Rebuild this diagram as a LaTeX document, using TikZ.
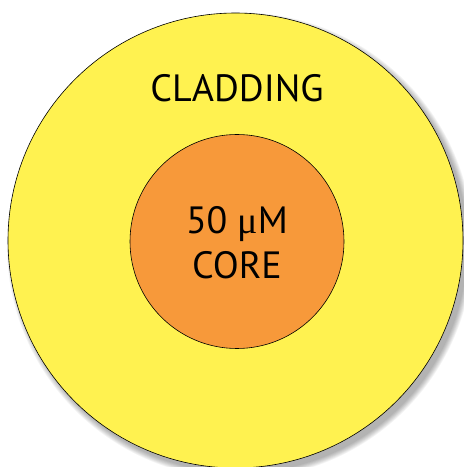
\documentclass[tikz,border=0pt]{standalone}
\usepackage{fontspec}
\setmainfont{PT Sans}
\newfontfamily\greekfont{Liberation Serif}
\definecolor{cladyellow}{RGB}{255,242,80}
\definecolor{coreorange}{RGB}{247,153,58}
\begin{document}
\begin{tikzpicture}[x=1pt,y=1pt,
  ring/.style={circle, draw=black, line width=0.6pt, inner sep=0pt},
  label/.style={font=\fontsize{38}{45}\selectfont, align=center, text=black}]
\useasboundingbox (0,0) rectangle (464,467);
\begin{scope}
\clip (0,0) rectangle (464,467);
\foreach \k in {0,1,...,7}{
  \fill[black, opacity=0.045] (240,221.5) circle ({227.5+\k*0.8});
}
\node[ring, fill=cladyellow, minimum size=455pt] (clad) at (235.5,226.5) {};
\end{scope}
\node[ring, fill=coreorange, minimum size=214pt] (core) at (237,225.5) {};
\node[label] (cladtext) at (237,379) {CLADDING};
\node[label] (coretext) at (237,224) {50 {\greekfont μ}M\\CORE};
\end{tikzpicture}
\end{document}
